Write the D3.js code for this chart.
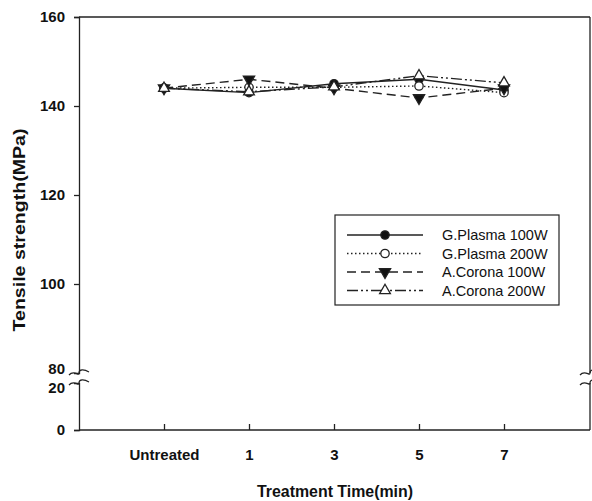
<!DOCTYPE html>
<html>
<head>
<meta charset="utf-8">
<script src="https://cdn.jsdelivr.net/npm/d3@7"></script>
<style>
  body { margin: 0; background: #fff; }
  text { font-family: "Liberation Sans", Arial, sans-serif; }
</style>
</head>
<body>
<svg id="drawing_region"></svg>
<script>
// categories on the x axis
const categories = ["Untreated", "1", "3", "5", "7"];

// tensile strength (MPa) per series
const gPlasma100 = [144.0, 143.0, 145.0, 146.0, 143.6];
const gPlasma200 = [144.0, 144.2, 144.2, 144.5, 143.0];
const aCorona100 = [144.0, 146.0, 144.0, 141.8, 144.0];
const aCorona200 = [144.0, 143.2, 144.3, 146.8, 145.2];

const seriesNames = ["G.Plasma 100W", "G.Plasma 200W", "A.Corona 100W", "A.Corona 200W"];

// y tick labels (upper and lower segment of the broken axis)
const upperTicks = [80, 100, 120, 140, 160];
const lowerTicks = [0, 20];

const series = [
    { name: seriesNames[0], values: gPlasma100, dash: null, symbol: d3.symbolCircle, fill: "#111", size: 55 },
    { name: seriesNames[1], values: gPlasma200, dash: "1.5,2.5", symbol: d3.symbolCircle, fill: "#fff", size: 55 },
    { name: seriesNames[2], values: aCorona100, dash: "9,5", symbol: "down", fill: "#111", size: 55 },
    { name: seriesNames[3], values: aCorona200, dash: "11,3,2,3,2,3", symbol: d3.symbolTriangle, fill: "#fff", size: 50 }
];

const W = 592, H = 501;
const pLeft = 79, pRight = 590, pTop = 17, pBottom = 430;
const breakHi = 373, breakLo = 383;

const svg = d3.select("#drawing_region").attr("width", W).attr("height", H);

const xscale = d3.scaleLinear().domain([-1, 5]).range([pLeft, pRight - 1]);
const yTop = d3.scaleLinear().domain([80, 160]).range([breakHi, pTop]);
const yLow = d3.scaleLinear().domain([0, 20]).range([pBottom, breakLo]);

const stroke = "#222";

// frame: top and right sides
svg.append("line").attr("x1", pLeft).attr("x2", pRight).attr("y1", pTop).attr("y2", pTop)
    .attr("stroke", stroke).attr("stroke-width", 1.3);
svg.append("line").attr("x1", pRight).attr("x2", pRight).attr("y1", pTop).attr("y2", breakHi)
    .attr("stroke", stroke).attr("stroke-width", 1.3);
svg.append("line").attr("x1", pRight).attr("x2", pRight).attr("y1", breakLo).attr("y2", pBottom)
    .attr("stroke", stroke).attr("stroke-width", 1.3);

// y axis (upper part)
const yaxisTop = svg.append("g")
    .attr("transform", `translate(${pLeft},0)`)
    .call(d3.axisLeft(yTop).tickValues(upperTicks).tickSize(5).tickPadding(9));

// y axis (lower part)
const yaxisLow = svg.append("g")
    .attr("transform", `translate(${pLeft},0)`)
    .call(d3.axisLeft(yLow).tickValues(lowerTicks).tickSize(5).tickPadding(9));

[yaxisTop, yaxisLow].forEach(g => {
    g.select(".domain").attr("stroke", stroke).attr("stroke-width", 1.3);
    g.selectAll(".tick line").attr("stroke", stroke).attr("stroke-width", 1.3);
    g.selectAll(".tick text")
        .attr("font-size", "15px").attr("font-weight", "bold").attr("fill", "#111")
        .style("font-family", "'Liberation Sans', Arial, sans-serif");
});
yaxisTop.selectAll(".tick").filter(d => d === 80).select("line").remove();
yaxisLow.selectAll(".tick").filter(d => d === 20).select("line").remove();
yaxisTop.selectAll(".tick").filter(d => d === 80).select("text").attr("dy", "0.05em");
yaxisLow.selectAll(".tick").filter(d => d === 20).select("text").attr("dy", "0.62em");

// x axis
const xaxis = svg.append("g")
    .attr("transform", `translate(0,${pBottom})`)
    .call(d3.axisBottom(xscale).tickValues(d3.range(categories.length))
        .tickFormat(i => categories[i]).tickSize(-6).tickPadding(19));
xaxis.select(".domain").attr("d", `M${pLeft},0H${pRight}`).attr("stroke", stroke).attr("stroke-width", 1.3);
xaxis.selectAll(".tick line").attr("stroke", stroke).attr("stroke-width", 1.3);
xaxis.selectAll(".tick text")
    .attr("font-size", "15px").attr("font-weight", "bold").attr("fill", "#111")
    .style("font-family", "'Liberation Sans', Arial, sans-serif");

// axis break squiggles
function squiggle(x, y, dir) {
    const w = 10 * dir;
    return `M${x - w},${y + 2} C${x - w * 0.5},${y - 4} ${x},${y + 4} ${x},${y} ` +
           `C${x},${y - 4} ${x + w * 0.5},${y - 4} ${x + w},${y - 1}`;
}
[[pLeft, breakHi], [pLeft, breakLo], [pRight, breakHi], [pRight, breakLo]].forEach(([x, y]) => {
    svg.append("path").attr("d", squiggle(x, y, 1))
        .attr("fill", "none").attr("stroke", stroke).attr("stroke-width", 1.2);
});

// axis titles
svg.append("text")
    .attr("x", 335).attr("y", 497)
    .attr("text-anchor", "middle")
    .attr("font-size", "16px").attr("font-weight", "bold").attr("fill", "#111")
    .attr("textLength", 156).attr("lengthAdjust", "spacingAndGlyphs")
    .text("Treatment Time(min)");

svg.append("text")
    .attr("transform", `translate(25,230) rotate(-90)`)
    .attr("text-anchor", "middle")
    .attr("font-size", "16px").attr("font-weight", "bold").attr("fill", "#111")
    .attr("textLength", 203).attr("lengthAdjust", "spacingAndGlyphs")
    .text("Tensile strength(MPa)");

// markers
function symbolPath(sym, size) {
    if (sym === "down") {
        return d3.symbol(d3.symbolTriangle, size)();
    }
    return d3.symbol(sym, size)();
}

const line = d3.line()
    .x((d, i) => xscale(i))
    .y(d => yTop(d));

const plot = svg.append("g");

series.forEach(s => {
    plot.append("path")
        .attr("d", line(s.values))
        .attr("fill", "none")
        .attr("stroke", stroke)
        .attr("stroke-width", 1.4)
        .attr("stroke-dasharray", s.dash);
});

series.forEach(s => {
    plot.selectAll(null).data(s.values).enter()
        .append("path")
        .attr("d", symbolPath(s.symbol, s.size))
        .attr("transform", (d, i) => `translate(${xscale(i)},${yTop(d)})` + (s.symbol === "down" ? " rotate(180)" : ""))
        .attr("fill", s.fill)
        .attr("stroke", stroke)
        .attr("stroke-width", 1.3);
});

// legend
const legend = svg.append("g").attr("transform", "translate(335,215)");
legend.append("rect")
    .attr("x", 0).attr("y", 0).attr("width", 224).attr("height", 90)
    .attr("fill", "#fff").attr("stroke", stroke).attr("stroke-width", 1.2);

const rows = legend.selectAll("g.row").data(series).enter()
    .append("g").attr("class", "row")
    .attr("transform", (d, i) => `translate(0,${20 + i * 18.5})`);

rows.append("line")
    .attr("x1", 12).attr("x2", 88).attr("y1", 0).attr("y2", 0)
    .attr("stroke", stroke).attr("stroke-width", 1.4)
    .attr("stroke-dasharray", d => d.dash);

rows.append("path")
    .attr("d", d => symbolPath(d.symbol, d.size))
    .attr("transform", d => "translate(50,0)" + (d.symbol === "down" ? " rotate(180)" : ""))
    .attr("fill", d => d.fill)
    .attr("stroke", stroke)
    .attr("stroke-width", 1.3);

rows.append("text")
    .attr("x", 107).attr("y", 5)
    .attr("font-size", "14.5px").attr("fill", "#111")
    .text(d => d.name);
</script>
</body>
</html>
